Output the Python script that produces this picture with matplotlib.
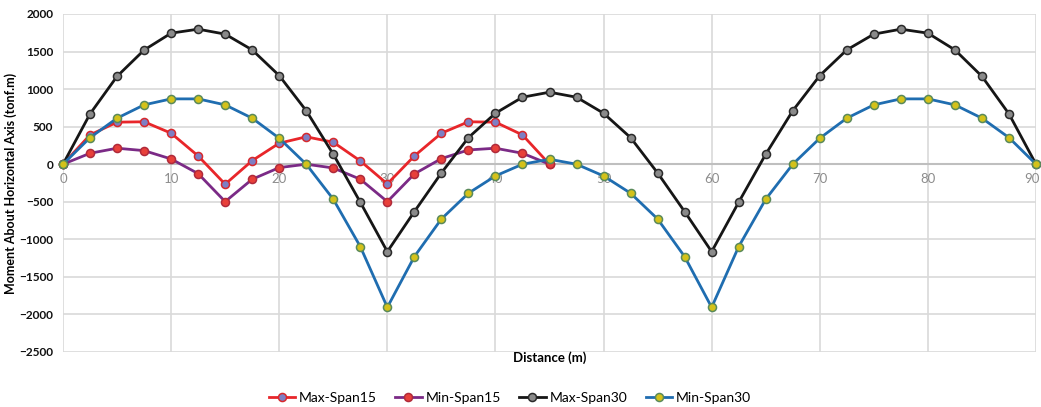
import matplotlib
matplotlib.use("Agg")
import matplotlib.pyplot as plt
import matplotlib.transforms as mtransforms
import numpy as np

x15 = [0, 2.5, 5, 7.5, 10, 12.5, 15, 17.5, 20, 22.5, 25, 27.5, 30, 32.5, 35, 37.5, 40, 42.5, 45]
max_span15 = [0, 390, 560, 565, 413, 110, -266, 48, 280, 365, 293, 44, -262, 110, 413, 565, 560, 390, 0]
min_span15 = [0, 146, 213, 181, 70, -125, -498, -200, -45, 0, -50, -200, -498, -129, 75, 190, 213, 146, 0]

x30 = [0, 2.5, 5, 7.5, 10, 12.5, 15, 17.5, 20, 22.5, 25, 27.5, 30, 32.5, 35, 37.5, 40, 42.5, 45,
       47.5, 50, 52.5, 55, 57.5, 60, 62.5, 65, 67.5, 70, 72.5, 75, 77.5, 80, 82.5, 85, 87.5, 90]
max_span30 = [0, 670, 1170, 1520, 1745, 1798, 1732, 1522, 1180, 712, 133, -506, -1164, -631, -116, 354, 679, 892, 959,
              892, 679, 354, -116, -631, -1164, -506, 133, 712, 1180, 1522, 1732, 1798, 1745, 1522, 1170, 670, 0]
min_span30 = [0, 354, 613, 790, 870, 870, 790, 613, 346, 0, -466, -1097, -1905, -1230, -729, -386, -156, 0, 66,
              0, -156, -386, -729, -1230, -1905, -1097, -466, 0, 346, 613, 790, 870, 870, 790, 613, 354, 0]

xticks = [0, 10, 20, 30, 40, 50, 60, 70, 80, 90]
yticks = [-2500, -2000, -1500, -1000, -500, 0, 500, 1000, 1500, 2000]

plt.rcParams['font.family'] = ['Lato', 'DejaVu Sans']

fig = plt.figure(figsize=(10.41, 4.07), dpi=100)
ax = fig.add_axes([63/1041, 1-352/407, (1036-63)/1041, (352-14)/407])

series = [
    ("Max-Span15", x15, max_span15, "#e8262a", "#7d7fc4", "#d8282c"),
    ("Min-Span15", x15, min_span15, "#7b2a86", "#e8403a", "#b02a3a"),
    ("Max-Span30", x30, max_span30, "#161616", "#8a8a8a", "#2a2a2a"),
    ("Min-Span30", x30, min_span30, "#1f6db0", "#d4c21a", "#5a8a5a"),
]
for name, xs, ys, lc, fc, ec in series:
    ax.plot(xs, ys, color=lc, lw=2.0, marker='o', markersize=5.8,
            markerfacecolor=fc, markeredgecolor=ec, markeredgewidth=1.1,
            label=name, clip_on=False, zorder=3)

ax.set_xlim(0, 90)
ax.set_ylim(-2500, 2000)
ax.set_xticks(xticks)
ax.set_yticks(yticks)
ax.grid(True, color="#d9d9d9", lw=1.2)
ax.set_axisbelow(True)
for s in ['top', 'right', 'left']:
    ax.spines[s].set_visible(False)
ax.spines['bottom'].set_position(('data', 0))
ax.spines['bottom'].set_color("#bfbfbf")
ax.spines['bottom'].set_linewidth(1.5)
ax.tick_params(axis='x', length=0, labelsize=9.5, labelcolor="#8c8c8c", pad=6)
ax.tick_params(axis='y', length=0, labelsize=8.5, labelcolor="#111111", pad=7)
for lab in ax.get_yticklabels():
    lab.set_fontweight('bold')

# nudge the last x tick label so it stays inside the canvas
last = ax.get_xticklabels()[-1]
last.set_transform(last.get_transform() + mtransforms.ScaledTranslation(-4/100, 0, fig.dpi_scale_trans))

fig.text(11/1041, 1-183/407, "Moment About Horizontal Axis (tonf.m)", rotation=90,
         ha='center', va='center', fontsize=9, fontweight='bold')
fig.text((63+1036)/2/1041, 1-358/407, "Distance (m)", ha='center', va='center',
         fontsize=9.5, fontweight='bold')

leg = fig.legend(loc='center', bbox_to_anchor=(510/1041, 1-398/407), ncol=4, frameon=False,
                 fontsize=10, handlelength=1.9, columnspacing=1.3, handletextpad=0.3)

fig.savefig("out.png", dpi=100)
